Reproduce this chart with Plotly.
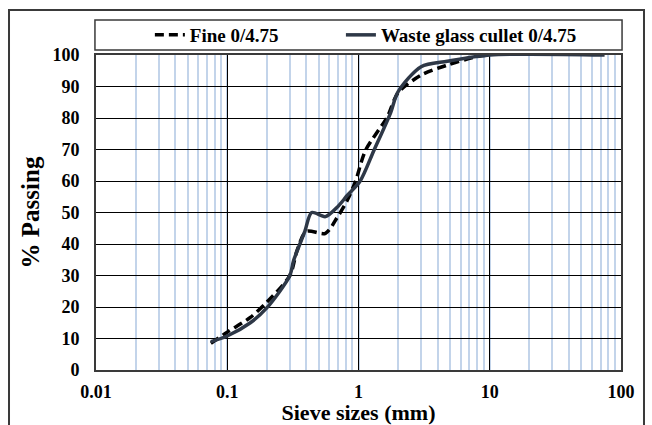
import plotly.graph_objects as go

# Data
fine_sizes = [0.075, 0.1, 0.15, 0.2, 0.3, 0.34, 0.4, 0.56, 0.69, 0.82, 0.95, 1.13, 1.66, 2.0, 3.0, 4.75, 8.0, 10.0]
fine_pass = [8.5, 12, 16.7, 21.5, 30, 37.9, 44, 43.4, 48.5, 53.8, 60, 69.7, 80.4, 88, 93.6, 96.8, 99.5, 100]

glass_sizes = [0.075, 0.1, 0.15, 0.2, 0.3, 0.32, 0.39, 0.44, 0.56, 0.7, 0.82, 1.03, 1.31, 1.75, 2.0, 3.0, 4.75, 10.0, 75.0]
glass_pass = [9, 10.8, 15, 19.7, 30, 34.7, 44, 50, 48.7, 52, 55.4, 60, 69.7, 81.5, 88.3, 96.3, 98, 100, 100]

x_ticks = [0.01, 0.1, 1, 10, 100]
x_labels = ["0.01", "0.1", "1", "10", "100"]
y_ticks = list(range(0, 101, 10))

FONT = "Liberation Serif"
legend_font = dict(family=FONT, size=19, color="#000000", weight="bold")

fig = go.Figure()
fig.add_trace(go.Scatter(
    x=fine_sizes, y=fine_pass, mode="lines", name="Fine 0/4.75", legend="legend",
    line=dict(color="#000000", width=3.5, dash="9px,5px", shape="spline", smoothing=0.8),
))
fig.add_trace(go.Scatter(
    x=glass_sizes, y=glass_pass, mode="lines", name="Waste glass cullet 0/4.75", legend="legend2",
    line=dict(color="#2e3847", width=3.5, shape="spline", smoothing=0.8),
))

fig.update_layout(
    width=652, height=425,
    margin=dict(l=96, r=31, t=55, b=55, autoexpand=False),
    paper_bgcolor="white", plot_bgcolor="white",
    font=dict(family=FONT, color="#000000"),
    showlegend=True,
    legend=dict(
        orientation="h", x=0.1026, xanchor="left", y=1.0635, yanchor="middle",
        font=legend_font, bgcolor="rgba(0,0,0,0)", borderwidth=0,
    ),
    legend2=dict(
        orientation="h", x=0.4665, xanchor="left", y=1.0635, yanchor="middle",
        font=legend_font, bgcolor="rgba(0,0,0,0)", borderwidth=0,
    ),
    xaxis=dict(
        type="log", range=[-2, 2], tickvals=x_ticks, ticktext=x_labels,
        showgrid=True, gridcolor="#000000", gridwidth=1,
        minor=dict(dtick="D1", showgrid=True, gridcolor="#c3d4ea", gridwidth=1.5, ticks=""),
        showline=True, linecolor="#3a3a3a", linewidth=2, mirror=True,
        ticks="outside", ticklen=4, tickcolor="rgba(0,0,0,0)",
        tickfont=dict(family=FONT, size=18, color="#000000", weight="bold"),
        title=dict(text="<b>Sieve sizes (mm)</b>", font=dict(family=FONT, size=22, color="#000000"), standoff=0),
        zeroline=False, automargin=False,
    ),
    yaxis=dict(
        range=[0, 100], tickvals=y_ticks,
        showgrid=True, gridcolor="#000000", gridwidth=1,
        showline=True, linecolor="#3a3a3a", linewidth=2, mirror=True,
        ticks="outside", ticklen=11, tickcolor="rgba(0,0,0,0)",
        tickfont=dict(family=FONT, size=18, color="#000000", weight="bold"),
        title=dict(text="<b>% Passing</b>", font=dict(family=FONT, size=25, color="#000000"), standoff=6),
        zeroline=False, automargin=False,
    ),
    shapes=[
        # outer chart border
        dict(type="rect", xref="paper", yref="paper", x0=-0.1657, x1=1.0438, y0=-0.25, y1=1.1429,
             line=dict(color="#3a3a3a", width=2), fillcolor="rgba(0,0,0,0)", layer="below"),
        # legend box
        dict(type="rect", xref="paper", yref="paper", x0=-0.002, x1=1.002, y0=1.0159, y1=1.111,
             line=dict(color="#3a3a3a", width=1.5), fillcolor="rgba(0,0,0,0)"),
    ],
)

fig.write_html("out.html")
